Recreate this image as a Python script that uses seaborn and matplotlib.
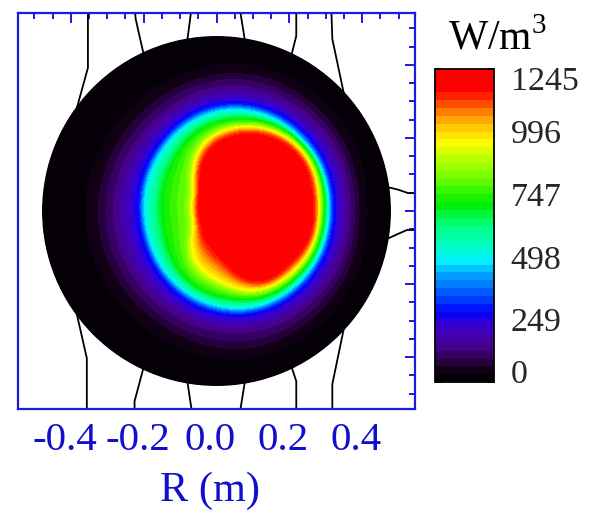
import numpy as np
import matplotlib
matplotlib.use("Agg")
import matplotlib.pyplot as plt
import seaborn as sns
from matplotlib.colors import LinearSegmentedColormap
from matplotlib.patches import Circle
from matplotlib.ticker import MultipleLocator
from matplotlib.transforms import ScaledTranslation

# ---------------- data ----------------
# power-density levels (W/m^3) and the distance (m) at which each level is
# reached along 16 rays (every 22.5 deg, counter-clockwise from +R)
# leaving the deposition centre
level_values = [1245, 1160, 950, 820, 720, 485, 274, 140, 40, 0]
ray_angles_deg = list(np.arange(16) * 22.5)
level_radii = [
    [0.000] * 16,                                                    # 1245
    [0.219, 0.227, 0.233, 0.225, 0.208, 0.181, 0.137, 0.107,
     0.101, 0.101, 0.112, 0.126, 0.167, 0.208, 0.211, 0.219],        # 1160
    [0.233, 0.241, 0.247, 0.241, 0.227, 0.203, 0.156, 0.121,
     0.115, 0.121, 0.159, 0.186, 0.208, 0.227, 0.230, 0.233],        # 950
    [0.238, 0.247, 0.252, 0.247, 0.236, 0.216, 0.175, 0.137,
     0.129, 0.137, 0.181, 0.205, 0.222, 0.236, 0.238, 0.238],        # 820
    [0.247, 0.255, 0.260, 0.258, 0.249, 0.238, 0.216, 0.200,
     0.192, 0.197, 0.216, 0.230, 0.238, 0.247, 0.247, 0.247],        # 720
    [0.258, 0.263, 0.268, 0.274, 0.277, 0.271, 0.260, 0.252,
     0.247, 0.247, 0.253, 0.260, 0.266, 0.266, 0.262, 0.259],        # 485
    [0.271, 0.277, 0.284, 0.290, 0.293, 0.288, 0.275, 0.266,
     0.260, 0.260, 0.268, 0.277, 0.282, 0.282, 0.277, 0.273],        # 274
    [0.312, 0.318, 0.323, 0.329, 0.334, 0.329, 0.321, 0.321,
     0.321, 0.321, 0.318, 0.321, 0.323, 0.323, 0.318, 0.315],        # 140
    [0.351, 0.359, 0.370, 0.381, 0.389, 0.386, 0.384, 0.386,
     0.389, 0.386, 0.384, 0.386, 0.392, 0.384, 0.370, 0.359],        # 40
    [0.411, 0.425, 0.438, 0.447, 0.452, 0.460, 0.466, 0.474,
     0.479, 0.474, 0.466, 0.460, 0.452, 0.447, 0.438, 0.425],        # 0
]
deposition_centre = (0.049, 0.0)
plasma_radius = 0.477

# colour bar ticks
cbar_ticks = [0, 249, 498, 747, 996, 1245]
x_ticks = [-0.4, -0.2, 0.0, 0.2, 0.4]

# field lines outside the plasma (x, y in metres)
field_lines = [
    ([-0.353, -0.353, -0.384], [0.560, 0.392, 0.280]),
    ([-0.384, -0.356, -0.356], [-0.280, -0.403, -0.560]),
    ([-0.225, -0.222, -0.198], [0.560, 0.526, 0.420]),
    ([-0.198, -0.225, -0.225], [-0.420, -0.521, -0.560]),
    ([-0.068, -0.081], [0.560, 0.460]),
    ([-0.081, -0.066], [-0.460, -0.560]),
    ([0.063, 0.079], [0.560, 0.460]),
    ([0.079, 0.063], [-0.460, -0.560]),
    ([0.219, 0.219, 0.204], [0.560, 0.479, 0.420]),
    ([0.204, 0.219, 0.219], [-0.420, -0.466, -0.560]),
    ([0.315, 0.318, 0.350], [0.560, 0.471, 0.320]),
    ([0.350, 0.318, 0.318], [-0.320, -0.474, -0.560]),
    ([0.460, 0.500, 0.526, 0.560], [0.068, 0.058, 0.049, 0.049]),
    ([0.460, 0.500, 0.523, 0.560], [-0.080, -0.062, -0.052, -0.052]),
]

# ---------------- style ----------------
sns.set_theme(style="white")
plt.rcParams["font.family"] = ["Liberation Serif", "DejaVu Serif"]
plt.rcParams["mathtext.fontset"] = "custom"
plt.rcParams["mathtext.rm"] = "Liberation Serif"
plt.rcParams["axes.unicode_minus"] = False

axis_blue = "#1c1ce0"
text_blue = "#1010cc"

cmap = LinearSegmentedColormap.from_list(
    "heat",
    [
        (0.00, (0.00, 0.00, 0.00)),
        (0.04, (0.07, 0.00, 0.09)),
        (0.07, (0.17, 0.00, 0.28)),
        (0.11, (0.28, 0.00, 0.55)),
        (0.18, (0.24, 0.00, 0.80)),
        (0.22, (0.00, 0.00, 1.00)),
        (0.28, (0.00, 0.32, 1.00)),
        (0.34, (0.00, 0.63, 1.00)),
        (0.39, (0.00, 0.95, 1.00)),
        (0.44, (0.00, 1.00, 0.75)),
        (0.50, (0.00, 1.00, 0.50)),
        (0.57, (0.00, 0.93, 0.00)),
        (0.66, (0.47, 1.00, 0.00)),
        (0.71, (0.70, 1.00, 0.00)),
        (0.76, (1.00, 1.00, 0.00)),
        (0.82, (1.00, 0.78, 0.00)),
        (0.86, (1.00, 0.51, 0.00)),
        (0.90, (1.00, 0.24, 0.00)),
        (0.93, (1.00, 0.00, 0.00)),
        (1.00, (1.00, 0.00, 0.00)),
    ],
)


def periodic_profile(samples, theta_deg):
    """Smooth trigonometric interpolation of equally spaced ray samples."""
    s = np.asarray(samples, float)
    N = len(s)
    c = np.fft.rfft(s) / N
    th = np.radians(theta_deg)
    out = np.full(theta_deg.shape, c[0].real)
    for k in range(1, len(c)):
        w = 0.5 if (N % 2 == 0 and k == N // 2) else 1.0
        out += 2 * w * (c[k].real * np.cos(k * th) - c[k].imag * np.sin(k * th))
    return out


# ---------------- field on a grid ----------------
n = 501
xs = np.linspace(-0.5, 0.5, n)
X, Y = np.meshgrid(xs, xs)
cx, cy = deposition_centre
r = np.hypot(X - cx, Y - cy)
theta = np.degrees(np.arctan2(Y - cy, X - cx)) % 360
R = np.array([periodic_profile(rad, theta) for rad in level_radii])
R = np.maximum.accumulate(np.maximum(R, 0), axis=0)

Z = np.zeros_like(r)
for k in range(len(level_values) - 1):
    r0, r1 = R[k], R[k + 1]
    t = (r - r0) / np.maximum(r1 - r0, 1e-9)
    val = level_values[k] + t * (level_values[k + 1] - level_values[k])
    Z = np.where((r >= r0) & (r < r1), val, Z)

# light smoothing of the ray interpolation
g = np.exp(-0.5 * (np.arange(-6, 7) / 2.5) ** 2)
g /= g.sum()
Z = np.apply_along_axis(lambda v: np.convolve(v, g, mode="same"), 0, Z)
Z = np.apply_along_axis(lambda v: np.convolve(v, g, mode="same"), 1, Z)
Z = np.clip(Z, 0, 1245)

# ---------------- figure ----------------
W, H = 590, 512
fig = plt.figure(figsize=(W / 100, H / 100), dpi=100)
ax = fig.add_axes([18 / W, (H - 409) / H, 397 / W, 396 / H])

for xl, yl in field_lines:
    sns.lineplot(x=xl, y=yl, ax=ax, color="black", lw=1.3, sort=False,
                 estimator=None, legend=False, zorder=1)

disk = Circle((0, 0), plasma_radius, fc="black", ec="black", lw=1.0, zorder=2)
ax.add_patch(disk)
levels = np.linspace(0, 1245, 41)
cf = ax.contourf(X, Y, Z, levels=levels, cmap=cmap, zorder=3)
cf.set_clip_path(disk)

ax.set_xlim(-0.545, 0.545)
ax.set_ylim(-0.542, 0.542)
ax.set_xticks(x_ticks)
ax.set_xticklabels([f"{v:.1f}" for v in x_ticks])
ax.set_yticks(x_ticks)
ax.xaxis.set_minor_locator(MultipleLocator(0.05))
ax.yaxis.set_minor_locator(MultipleLocator(0.05))
ax.tick_params(which="both", direction="in", top=True, right=True,
               color=axis_blue, width=1.4, labelleft=False)
ax.tick_params(which="major", length=7)
ax.tick_params(which="minor", length=4)
ax.tick_params(axis="x", labelsize=29.5, labelcolor=text_blue, pad=9)
for s in ax.spines.values():
    s.set_color(axis_blue)
    s.set_linewidth(1.6)
ax.set_xlabel("R (m)", fontsize=30.5, color=text_blue, labelpad=9)

shift = ScaledTranslation(-6 / 100, 0, fig.dpi_scale_trans)
for lab in ax.get_xticklabels():
    lab.set_transform(lab.get_transform() + shift)
ax.xaxis.label.set_transform(ax.xaxis.label.get_transform() + shift)

# colour bar
cax = fig.add_axes([435 / W, (H - 382) / H, 59 / W, 313 / H])
cb = fig.colorbar(cf, cax=cax, ticks=cbar_ticks)
cb.outline.set_edgecolor("black")
cb.outline.set_linewidth(1.3)
cax.minorticks_off()
cax.tick_params(axis="y", direction="in", left=True, right=True,
                labelleft=False, labelright=True, length=5, width=1.3,
                color="black", labelsize=24.5, pad=12)
cax.set_yticklabels([str(v) for v in cbar_ticks])
labs = cax.get_yticklabels()
labs[0].set_transform(labs[0].get_transform()
                      + ScaledTranslation(0, 11 / 100, fig.dpi_scale_trans))
labs[-1].set_transform(labs[-1].get_transform()
                       + ScaledTranslation(0, -9 / 100, fig.dpi_scale_trans))

fig.text(448 / W, (H - 50) / H, r"W/m$^{\mathregular{3}}$", fontsize=30,
         ha="left", va="baseline", color="black")

fig.savefig("out.png", dpi=100, facecolor="white")
